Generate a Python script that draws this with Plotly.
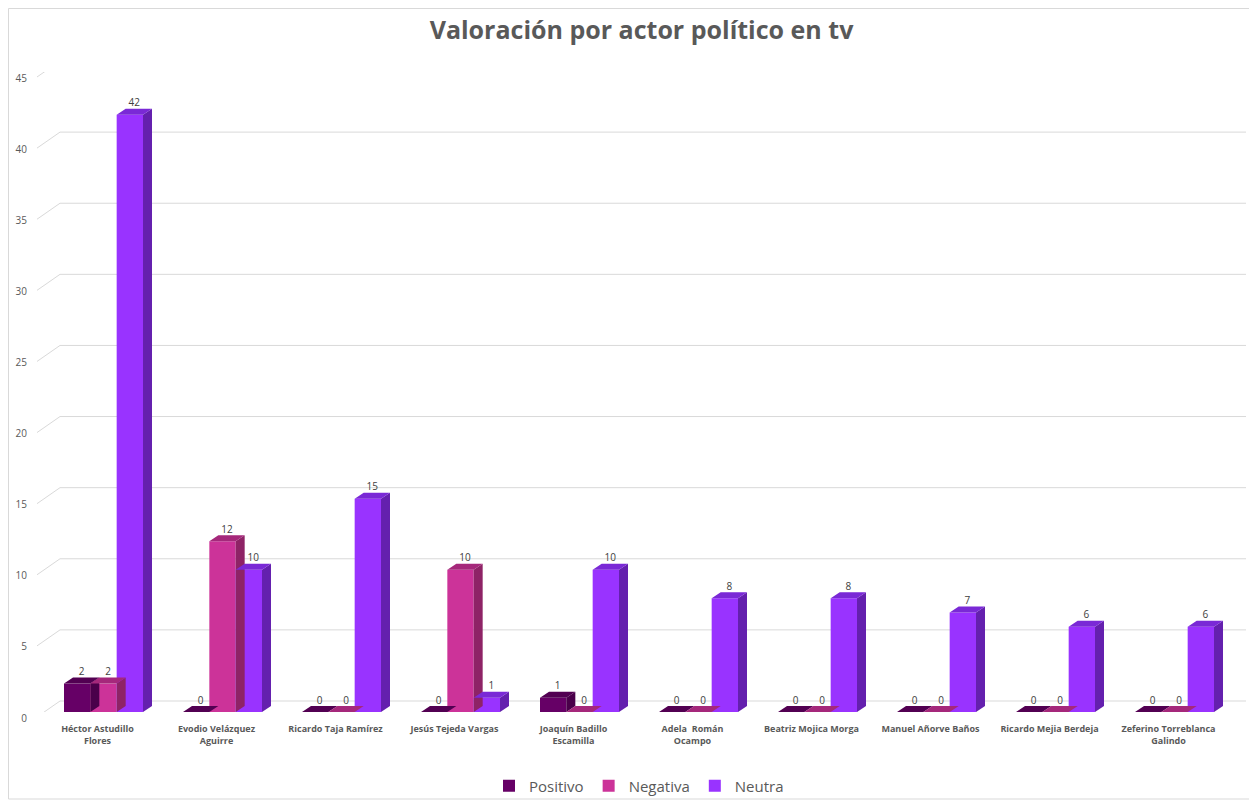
import plotly.graph_objects as go

# ---------------- data ----------------
categories = [
    "Héctor Astudillo<br>Flores", "Evodio Velázquez<br>Aguirre", "Ricardo Taja Ramírez",
    "Jesús Tejeda Vargas", "Joaquín Badillo<br>Escamilla", "Adela  Román<br>Ocampo",
    "Beatriz Mojica Morga", "Manuel Añorve Baños", "Ricardo Mejia Berdeja",
    "Zeferino Torreblanca<br>Galindo",
]
positivo = [2, 0, 0, 0, 1, 0, 0, 0, 0, 0]
negativa = [2, 12, 0, 10, 0, 0, 0, 0, 0, 0]
neutra = [42, 10, 15, 1, 10, 8, 8, 7, 6, 6]
y_ticks = [0, 5, 10, 15, 20, 25, 30, 35, 40, 45]

series = [
    ("Positivo", positivo, "#660066", "#4a004a", "#520052"),
    ("Negativa", negativa, "#CC3399", "#8E2366", "#A5287B"),
    ("Neutra", neutra, "#9933FF", "#6420AE", "#7A29D6"),
]

# ---------------- geometry ----------------
OFF = 8                        # page body margin
W, H = 1257 - OFF, 802 - OFF
ML = 44 - OFF
MT = 72 - OFF
MR = W - (1234 - OFF)
MB = H - (712 - OFF)
plot_w = W - ML - MR
plot_h = H - MT - MB
px_x = plot_w / 10.0          # pixels per category
px_y = plot_h / 45.0          # pixels per unit
bw = 0.2213                   # bar width (category units)
ddx = 9 / px_x                # depth offset in x
ddy = 6 / px_y                # depth offset in y


def px2paper_x(p):
    return (p - OFF - ML) / plot_w


def px2paper_y(p):
    return ((H - MB) - (p - OFF)) / plot_h


fig = go.Figure()

idx = list(range(len(categories)))
for k, (name, vals, col, side_col, top_col) in enumerate(series):
    xs = [i + (k - 1) * bw for i in idx]
    fig.add_trace(go.Bar(
        x=xs, y=vals, width=bw, name=name, marker=dict(color=col, line=dict(width=0)),
        hoverinfo="y+name",
    ))
    sx, sy = [], []
    tx, ty = [], []
    for x, v in zip(xs, vals):
        xl, xr = x - bw / 2, x + bw / 2
        sx += [xr, xr + ddx, xr + ddx, xr, xr, None]
        sy += [0, ddy, v + ddy, v, 0, None]
        tx += [xl, xl + ddx, xr + ddx, xr, xl, None]
        ty += [v, v + ddy, v + ddy, v, v, None]
    fig.add_trace(go.Scatter(x=sx, y=sy, mode="lines", fill="toself", fillcolor=side_col,
                             line=dict(width=0, color=side_col), showlegend=False,
                             hoverinfo="skip"))
    fig.add_trace(go.Scatter(x=tx, y=ty, mode="lines", fill="toself", fillcolor=top_col,
                             line=dict(width=0, color=top_col), showlegend=False,
                             hoverinfo="skip"))
    fig.add_trace(go.Scatter(
        x=[x + ddx / 2 for x in xs], y=[v + ddy for v in vals], mode="text",
        text=[str(v) for v in vals], textposition="top center",
        textfont=dict(size=10, color="#404040", family="Open Sans"),
        showlegend=False, hoverinfo="skip",
    ))

# back-wall gridlines and floor diagonals
x_back0 = px2paper_x(60)
x_back1 = px2paper_x(1246)
x_front = px2paper_x(37)
for t in y_ticks:
    fig.add_shape(type="line", xref="paper", yref="y", ysizemode="pixel", yanchor=t,
                  x0=x_back0, x1=x_back1, y0=11, y1=11,
                  line=dict(color="#D9D9D9", width=1), layer="below")
    fig.add_shape(type="line", xref="paper", yref="y", ysizemode="pixel", yanchor=t,
                  x0=x_front, x1=x_back0, y0=-5, y1=11,
                  line=dict(color="#D9D9D9", width=1), layer="below")

# chart border
fig.add_shape(type="rect", xref="paper", yref="paper",
              x0=(0.5 - ML) / plot_w, x1=px2paper_x(1251),
              y0=px2paper_y(799), y1=((H - MB) - 0.5) / plot_h,
              line=dict(color="#D9D9D9", width=1), layer="below")

fig.update_layout(
    width=W, height=H,
    margin=dict(l=ML, r=MR, t=MT, b=MB, autoexpand=False),
    paper_bgcolor="white", plot_bgcolor="white",
    barmode="overlay",
    title=dict(text="<b>Valoración por actor político en tv</b>",
               x=(641.5 - OFF) / W, xanchor="center",
               y=1 - (30 - OFF) / H, yanchor="middle",
               font=dict(family="Open Sans", size=25, color="#595959")),
    xaxis=dict(range=[-0.5, 9.5], tickmode="array", tickvals=idx, ticktext=categories,
               showgrid=False, zeroline=False, showline=False, ticks="",
               tickfont=dict(family="Open Sans", size=9, color="#595959", weight="bold"),
               ticklabelshift=-6, ticklabelstandoff=10, tickangle=0),
    yaxis=dict(range=[0, 45], tickmode="array", tickvals=y_ticks, showgrid=False,
               zeroline=False, showline=False, ticks="",
               tickfont=dict(family="Open Sans", size=10, color="#595959"),
               ticklabelshift=6, ticklabelstandoff=16),
    legend=dict(orientation="h", x=0.5, xanchor="center", y=px2paper_y(786),
                yanchor="middle", font=dict(family="Open Sans", size=15, color="#595959"),
                bgcolor="rgba(0,0,0,0)", itemwidth=30, traceorder="normal"),
    showlegend=True,
)

fig.write_html("out.html")
